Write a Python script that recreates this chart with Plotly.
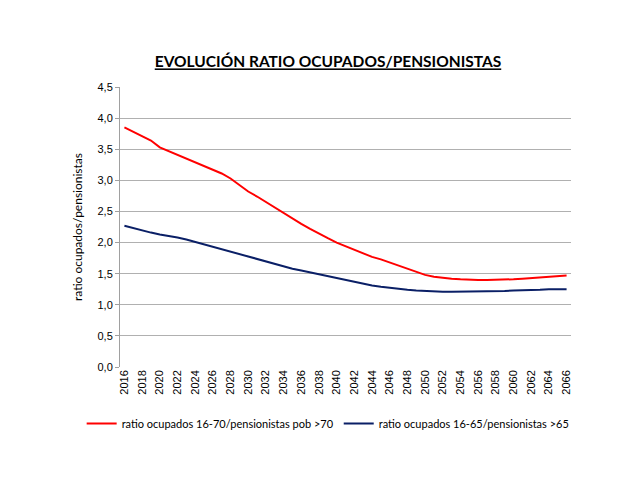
import plotly.graph_objects as go

years = list(range(2016, 2067))
ratio_70 = [3.85, 3.78, 3.72, 3.64, 3.53, 3.47, 3.42, 3.36, 3.30, 3.24,
            3.18, 3.11, 3.03, 2.93, 2.82, 2.74, 2.65, 2.56, 2.47, 2.39,
            2.30, 2.22, 2.14, 2.07, 2.00, 1.94, 1.88, 1.82, 1.77, 1.73,
            1.68, 1.63, 1.58, 1.53, 1.48, 1.45, 1.43, 1.42, 1.41, 1.40,
            1.40, 1.40, 1.40, 1.41, 1.41, 1.42, 1.43, 1.44, 1.45, 1.46, 1.47]
ratio_65 = [2.27, 2.23, 2.20, 2.16, 2.13, 2.11, 2.08, 2.05, 2.01, 1.97,
            1.93, 1.89, 1.86, 1.82, 1.78, 1.74, 1.70, 1.66, 1.62, 1.58,
            1.55, 1.52, 1.48, 1.45, 1.42, 1.39, 1.36, 1.33, 1.31, 1.29,
            1.27, 1.25, 1.24, 1.23, 1.22, 1.21, 1.21, 1.21, 1.21, 1.21,
            1.21, 1.22, 1.22, 1.22, 1.23, 1.23, 1.24, 1.24, 1.25, 1.25, 1.25]
tick_years = list(range(2016, 2067, 2))
y_ticks = [0, 0.5, 1, 1.5, 2, 2.5, 3, 3.5, 4, 4.5]

fig = go.Figure()
fig.add_trace(go.Scatter(x=years, y=ratio_70, mode="lines",
                         name="ratio ocupados 16-70/pensionistas pob >70",
                         line=dict(color="#ff0000", width=2)))
fig.add_trace(go.Scatter(x=years, y=ratio_65, mode="lines",
                         name="ratio ocupados 16-65/pensionistas >65",
                         line=dict(color="#0a1f66", width=2)))

fig.update_layout(
    width=640, height=480,
    paper_bgcolor="white", plot_bgcolor="white",
    separators=",.",
    margin=dict(l=112, r=77, t=79, b=121),
    title=dict(text="<b><u>EVOLUCIÓN RATIO OCUPADOS/PENSIONISTAS</u></b>",
               x=0.5, xanchor="center", y=0.8875, yanchor="middle",
               font=dict(family="Lato", size=15.5, color="black")),
    font=dict(family="Liberation Sans", color="black"),
    showlegend=True,
    legend=dict(orientation="h", x=-0.085, xref="paper", y=-0.15, yanchor="top",
                xanchor="left", font=dict(family="Lato", size=11, color="black"),
                itemwidth=30, tracegroupgap=0, bgcolor="rgba(0,0,0,0)"),
)
fig.update_xaxes(range=[2015.5, 2066.5], tickmode="array", tickvals=tick_years,
                 ticktext=[str(t) for t in tick_years], tickangle=-90,
                 tickfont=dict(family="Liberation Sans", size=11, color="black"),
                 showgrid=False, zeroline=False, showline=False, ticks="")
fig.update_yaxes(range=[0, 4.5], tickmode="array", tickvals=y_ticks,
                 tickformat=".1f", showgrid=True, gridcolor="#b0b0b0", gridwidth=1,
                 zeroline=False, showline=True, linecolor="#a0a0a0", linewidth=1,
                 ticks="outside", ticklen=4, tickcolor="#a0a0a0",
                 tickfont=dict(family="Liberation Sans", size=11, color="black"),
                 title=dict(text="ratio ocupados/pensionistas", standoff=12,
                            font=dict(family="Lato", size=12, color="black")))

fig.write_html("out.html")
